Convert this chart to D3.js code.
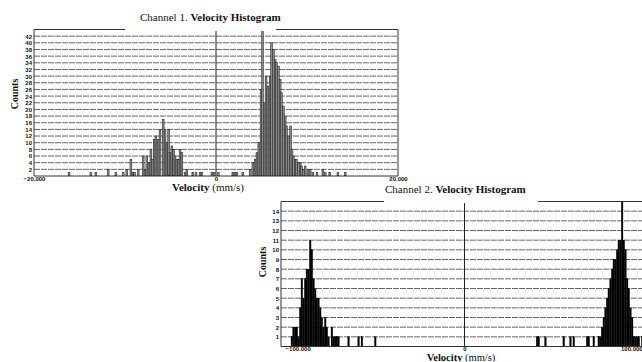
<!DOCTYPE html>
<html>
<head>
<meta charset="utf-8">
<script src="https://cdn.jsdelivr.net/npm/d3@7"></script>
<style>
  body { margin: 0; background: #fff; }
  svg { display: block; }
  .serif { font-family: "Liberation Serif", "Times New Roman", serif; fill: #111; }
  .tick text { font-family: "Liberation Sans", Arial, sans-serif; font-weight: bold; font-size: 6px; fill: #111; }
</style>
</head>
<body>
<svg id="chart" width="642" height="362"></svg>
<script>
// ── Channel 1 (bin centres in mm/s, counts) ────────────────────────────────
const ch1Velocity = [
  -16.15, -13.75, -13.2, -11.85, -11.0, -10.2, -9.8, -9.35, -9.1, -8.95, -8.55,
  -8.0, -7.8, -7.6, -7.35, -7.15, -7.0, -6.8, -6.6, -6.35, -6.15, -5.8, -5.6,
  -5.4, -5.2, -5.05, -4.85, -4.65, -4.5, -4.3, -4.1, -3.95, -3.75, -3.4, -3.2,
  -2.55, -2.2, -1.75, -1.55, -0.45, -0.2, 0.25, 1.85, 2.1, 2.3, 2.95,
  3.75, 4.05, 4.3, 4.5, 4.7, 4.95, 5.1, 5.3, 5.5, 5.7, 5.95, 6.1, 6.3, 6.5,
  6.65, 6.85, 7.05, 7.2, 7.4, 7.6, 7.75, 7.95, 8.2, 8.35, 8.5, 8.7, 8.85,
  9.05, 9.25, 9.4, 9.6, 9.8, 10.1, 10.35, 10.65, 11.1, 11.75, 12.0, 12.5,
  13.4, 14.2
];
const ch1Counts = [
  1, 1, 1, 2, 1, 1, 2, 5, 1, 1, 2,
  6, 2, 6, 4, 8, 5, 11, 12, 11, 14, 17, 14,
  10, 14, 7, 9, 8, 6, 5, 5, 8, 7, 1, 2,
  1, 1, 1, 1, 1, 1, 1, 1, 1, 1, 1,
  2, 4, 5, 7, 10, 26, 44, 22, 30, 27, 30, 40, 38, 35,
  34, 33, 29, 25, 21, 18, 15, 12, 15, 8, 6, 5, 5,
  4, 4, 3, 2, 3, 2, 2, 1, 1, 2, 1, 1,
  1, 1
];
const ch1YTicks = d3.range(2, 43, 2);
const ch1XTicks = [-20, 0, 20];

// ── Channel 2 (1 mm/s bins, left edge) ─────────────────────────────────────
const ch2Bins = [
  -104, -103, -102, -101, -100, -99, -98, -97, -96, -95, -94, -93, -92, -91,
  -90, -89, -88, -87, -86, -85, -84, -83, -82, -80, -79, -78, -77, -76,
  -70, -64, -62, -54,
  43, 44, 48, 59, 63, 65, 73, 74, 77, 80, 81, 82, 83, 84, 85, 86, 87, 88,
  89, 90, 91, 92, 93, 94, 95, 96, 97, 98, 99, 100, 101, 102, 103, 104, 106
];
const ch2Counts = [
  1, 2, 2, 2, 1, 4, 7, 5, 7, 8, 8, 11, 10, 7,
  6, 5, 5, 4, 3, 2, 3, 2, 1, 2, 1, 1, 1, 1,
  1, 1, 1, 1,
  1, 1, 1, 1, 1, 1, 1, 1, 1, 1, 1, 2, 3, 4, 5, 6, 7, 8,
  9, 9, 10, 11, 11, 16, 11, 10, 7, 6, 4, 3, 1, 1, 1, 1, 1
];
const ch2YTicks = d3.range(1, 15);
const ch2XTicks = [-100, 0, 100];

// ───────────────────────────────────────────────────────────────────────────

const svg = d3.select('#chart');
const tickFmt = d => d === 0 ? '0' : d3.format('.3f')(d);

function drawHistogram(o) {
  const x = d3.scaleLinear().domain(o.xDomain).range(o.xRange);
  const y = d3.scaleLinear().domain(o.yDomain).range(o.yRange);
  const [xl, xr] = o.xRange;
  const [yb, yt] = o.yRange;
  const g = svg.append('g');

  g.append('clipPath').attr('id', o.id)
    .append('rect').attr('x', xl).attr('y', yt).attr('width', xr - xl).attr('height', yb - yt);

  // gridlines
  g.append('g').selectAll('line').data(o.yTicks).join('line')
    .attr('x1', xl).attr('x2', xr)
    .attr('y1', d => y(d)).attr('y2', d => y(d))
    .attr('stroke', '#555').attr('stroke-width', 0.9)
    .attr('stroke-dasharray', '6,1');

  // bars
  g.append('g').attr('clip-path', `url(#${o.id})`)
    .selectAll('rect').data(o.bins).join('rect')
    .attr('x', d => x(d.lo))
    .attr('width', d => x(d.hi) - x(d.lo))
    .attr('y', d => y(d.n))
    .attr('height', d => yb - y(d.n))
    .attr('fill', o.barFill)
    .attr('stroke', o.barStroke)
    .attr('stroke-width', o.barStrokeWidth);

  // zero line
  g.append('line')
    .attr('x1', x(0)).attr('x2', x(0)).attr('y1', yt).attr('y2', yb)
    .attr('stroke', '#222').attr('stroke-width', 1);

  // frame
  g.append('path')
    .attr('d', `M${xl},${yt}V${yb}H${xr}V${yt}Z`)
    .attr('fill', 'none').attr('stroke', '#333').attr('stroke-width', 1);

  // axes (labels only)
  g.append('g').attr('transform', `translate(${xl},0)`)
    .call(d3.axisLeft(y).tickValues(o.yTicks).tickSize(0).tickPadding(2))
    .call(a => a.select('.domain').remove());
  g.append('g').attr('transform', `translate(0,${yb})`)
    .call(d3.axisBottom(x).tickValues(o.xTicks).tickSize(0).tickPadding(o.xPad).tickFormat(tickFmt))
    .call(a => a.select('.domain').remove());

  // title box covers the top frame
  g.append('rect')
    .attr('x', o.titleBox[0]).attr('y', yt - 18)
    .attr('width', o.titleBox[1] - o.titleBox[0]).attr('height', 19.5)
    .attr('fill', '#fff');
  const t = g.append('text').attr('class', 'serif')
    .attr('x', o.titleX).attr('y', o.titleY).attr('font-size', 11);
  t.append('tspan').text(o.title + '  ');
  t.append('tspan').attr('font-weight', 'bold').text('Velocity Histogram');

  const xl2 = g.append('text').attr('class', 'serif')
    .attr('x', o.xLabel[0]).attr('y', o.xLabel[1])
    .attr('text-anchor', 'middle').attr('font-size', o.xLabel[2]);
  xl2.append('tspan').attr('font-weight', 'bold').text('Velocity');
  xl2.append('tspan').text(' (mm/s)');

  g.append('text').attr('class', 'serif')
    .attr('transform', `translate(${o.yLabel[0]},${o.yLabel[1]}) rotate(-90)`)
    .attr('text-anchor', 'middle').attr('font-size', 10).attr('font-weight', 'bold')
    .text('Counts');
}

const hw1 = 0.1;
drawHistogram({
  id: 'clip1',
  xDomain: [-20, 20], xRange: [34, 398],
  yDomain: [0, 44], yRange: [176, 29.5],
  yTicks: ch1YTicks, xTicks: ch1XTicks, xPad: 1,
  bins: ch1Velocity.map((v, i) => ({ lo: v - hw1, hi: v + hw1, n: ch1Counts[i] })),
  barFill: '#8a8a8a', barStroke: '#1a1a1a', barStrokeWidth: 0.5,
  titleBox: [125, 276], title: 'Channel 1.', titleX: 140, titleY: 21,
  xLabel: [208, 191, 11], yLabel: [18, 94]
});

drawHistogram({
  id: 'clip2',
  xDomain: [-110, 110], xRange: [281, 648],
  yDomain: [0, 15], yRange: [346.5, 201.5],
  yTicks: ch2YTicks, xTicks: ch2XTicks, xPad: 0,
  bins: ch2Bins.map((b, i) => ({ lo: b, hi: b + 1, n: ch2Counts[i] })),
  barFill: '#000', barStroke: '#000', barStrokeWidth: 0.3,
  titleBox: [384, 538], title: 'Channel 2.', titleX: 385, titleY: 193,
  xLabel: [461, 361, 10.5], yLabel: [266, 262]
});
</script>
</body>
</html>
